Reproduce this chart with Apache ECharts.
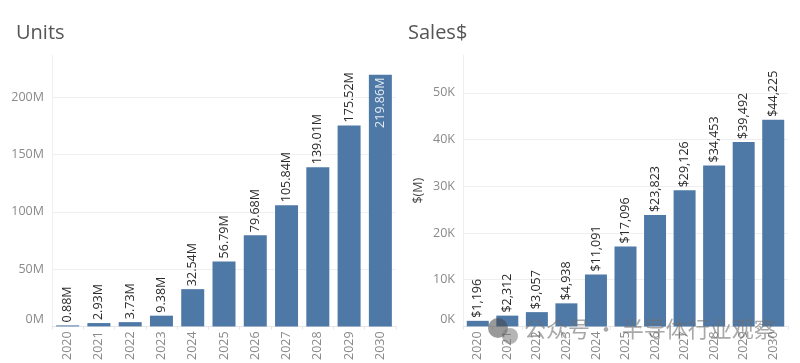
<!DOCTYPE html>
<html>
<head>
<meta charset="utf-8">
<script src="https://cdn.jsdelivr.net/npm/echarts@6/dist/echarts.min.js"></script>
<style>
  html, body { margin: 0; padding: 0; background: #fff; overflow: hidden; }
  #chart { width: 800px; height: 363px; }
</style>
</head>
<body>
<div id="chart"></div>
<script>
const years = ['2020','2021','2022','2023','2024','2025','2026','2027','2028','2029','2030'];
const units = [0.88, 2.93, 3.73, 9.38, 32.54, 56.79, 79.68, 105.84, 139.01, 175.52, 219.86];
const sales = [1196, 2312, 3057, 4938, 11091, 17096, 23823, 29126, 34453, 39492, 44225];

const fontName = 'Open Sans';
const blue = '#4e79a7';
const tickGrey = '#8a8a8a';
const lightLine = '#efefef';

// last Units bar carries its label inside, in white
function unitData() {
    return units.map(function (v, i) {
        if (i == units.length - 1) {
            return { value: v, label: { position: 'insideTop', align: 'right', distance: 3, color: '#e4ebf3' } };
        }
        return v;
    });
}

function yAxis(idx, step, suffix, divide, top) {
    return {
        type: 'value', gridIndex: idx, min: 0, max: top, interval: step,
        axisLine: { show: true, lineStyle: { color: lightLine } },
        axisTick: { show: false },
        splitLine: { lineStyle: { color: lightLine }, showMaxLine: false },
        axisLabel: {
            color: tickGrey, fontFamily: fontName, fontSize: 12.5, margin: 8,
            formatter: function (v) {
                if (v % step != 0) return '';
                var s = (v / divide) + suffix;
                return v == 0 ? '{z|' + s + '}' : s;
            },
            rich: { z: { color: tickGrey, fontFamily: fontName, fontSize: 12.5, padding: [0, 0, 14, 0] } }
        }
    };
}

function xAxis(idx) {
    return {
        type: 'category', gridIndex: idx, data: years,
        axisLine: { lineStyle: { color: '#e6e6e6' } },
        axisTick: { show: true, length: 3, lineStyle: { color: '#e6e6e6' } },
        axisLabel: { rotate: 90, color: tickGrey, fontFamily: fontName, fontSize: 12.5, margin: 5, interval: 0 }
    };
}

function barLabel(fmt) {
    return {
        show: true, position: 'top', rotate: 90, align: 'left', verticalAlign: 'middle',
        distance: 3, color: '#2b2b2b', fontFamily: fontName, fontSize: 12.5, formatter: fmt
    };
}

const chart = echarts.init(document.getElementById('chart'), null, { renderer: 'canvas' });
chart.setOption({
    animation: false,
    backgroundColor: '#fff',
    title: [
        { text: 'Units', left: 11, top: 18, textStyle: { color: '#555', fontFamily: fontName, fontSize: 20, fontWeight: 'normal' } },
        { text: 'Sales$', left: 403, top: 18, textStyle: { color: '#555', fontFamily: fontName, fontSize: 20, fontWeight: 'normal' } }
    ],
    grid: [
        { left: 52, top: 55, width: 344, height: 273 },
        { left: 463, top: 55, width: 325, height: 273 }
    ],
    xAxis: [xAxis(0), xAxis(1)],
    yAxis: [
        yAxis(0, 50, 'M', 1, 237),
        Object.assign(yAxis(1, 10000, 'K', 1000, 58100), {
            name: '$(M)', nameLocation: 'middle', nameGap: 38, nameRotate: 90,
            nameTextStyle: { color: '#444', fontFamily: fontName, fontSize: 12.5 }
        })
    ],
    series: [
        {
            type: 'bar', xAxisIndex: 0, yAxisIndex: 0, data: unitData(), barWidth: 23,
            itemStyle: { color: blue },
            label: barLabel(function (p) { return p.value.toFixed(2) + 'M'; })
        },
        {
            type: 'bar', xAxisIndex: 1, yAxisIndex: 1, data: sales, barWidth: 22,
            itemStyle: { color: blue },
            label: barLabel(function (p) { return '$' + p.value.toLocaleString('en-US'); })
        }
    ],
    graphic: [
        { type: 'circle', shape: { cx: 498, cy: 328, r: 10 }, silent: true, z: 100, style: { fill: 'rgba(70,70,70,0.55)' } },
        { type: 'circle', shape: { cx: 510, cy: 336, r: 8 }, silent: true, z: 100, style: { fill: 'rgba(120,120,120,0.55)' } },
        {
            type: 'text', left: 524, top: 318, silent: true, z: 100,
            style: { text: '公众号 · 半导体行业观察', fontFamily: 'Noto Sans CJK SC', fontSize: 22, fill: 'rgba(110,110,110,0.6)' }
        }
    ]
});
</script>
</body>
</html>
